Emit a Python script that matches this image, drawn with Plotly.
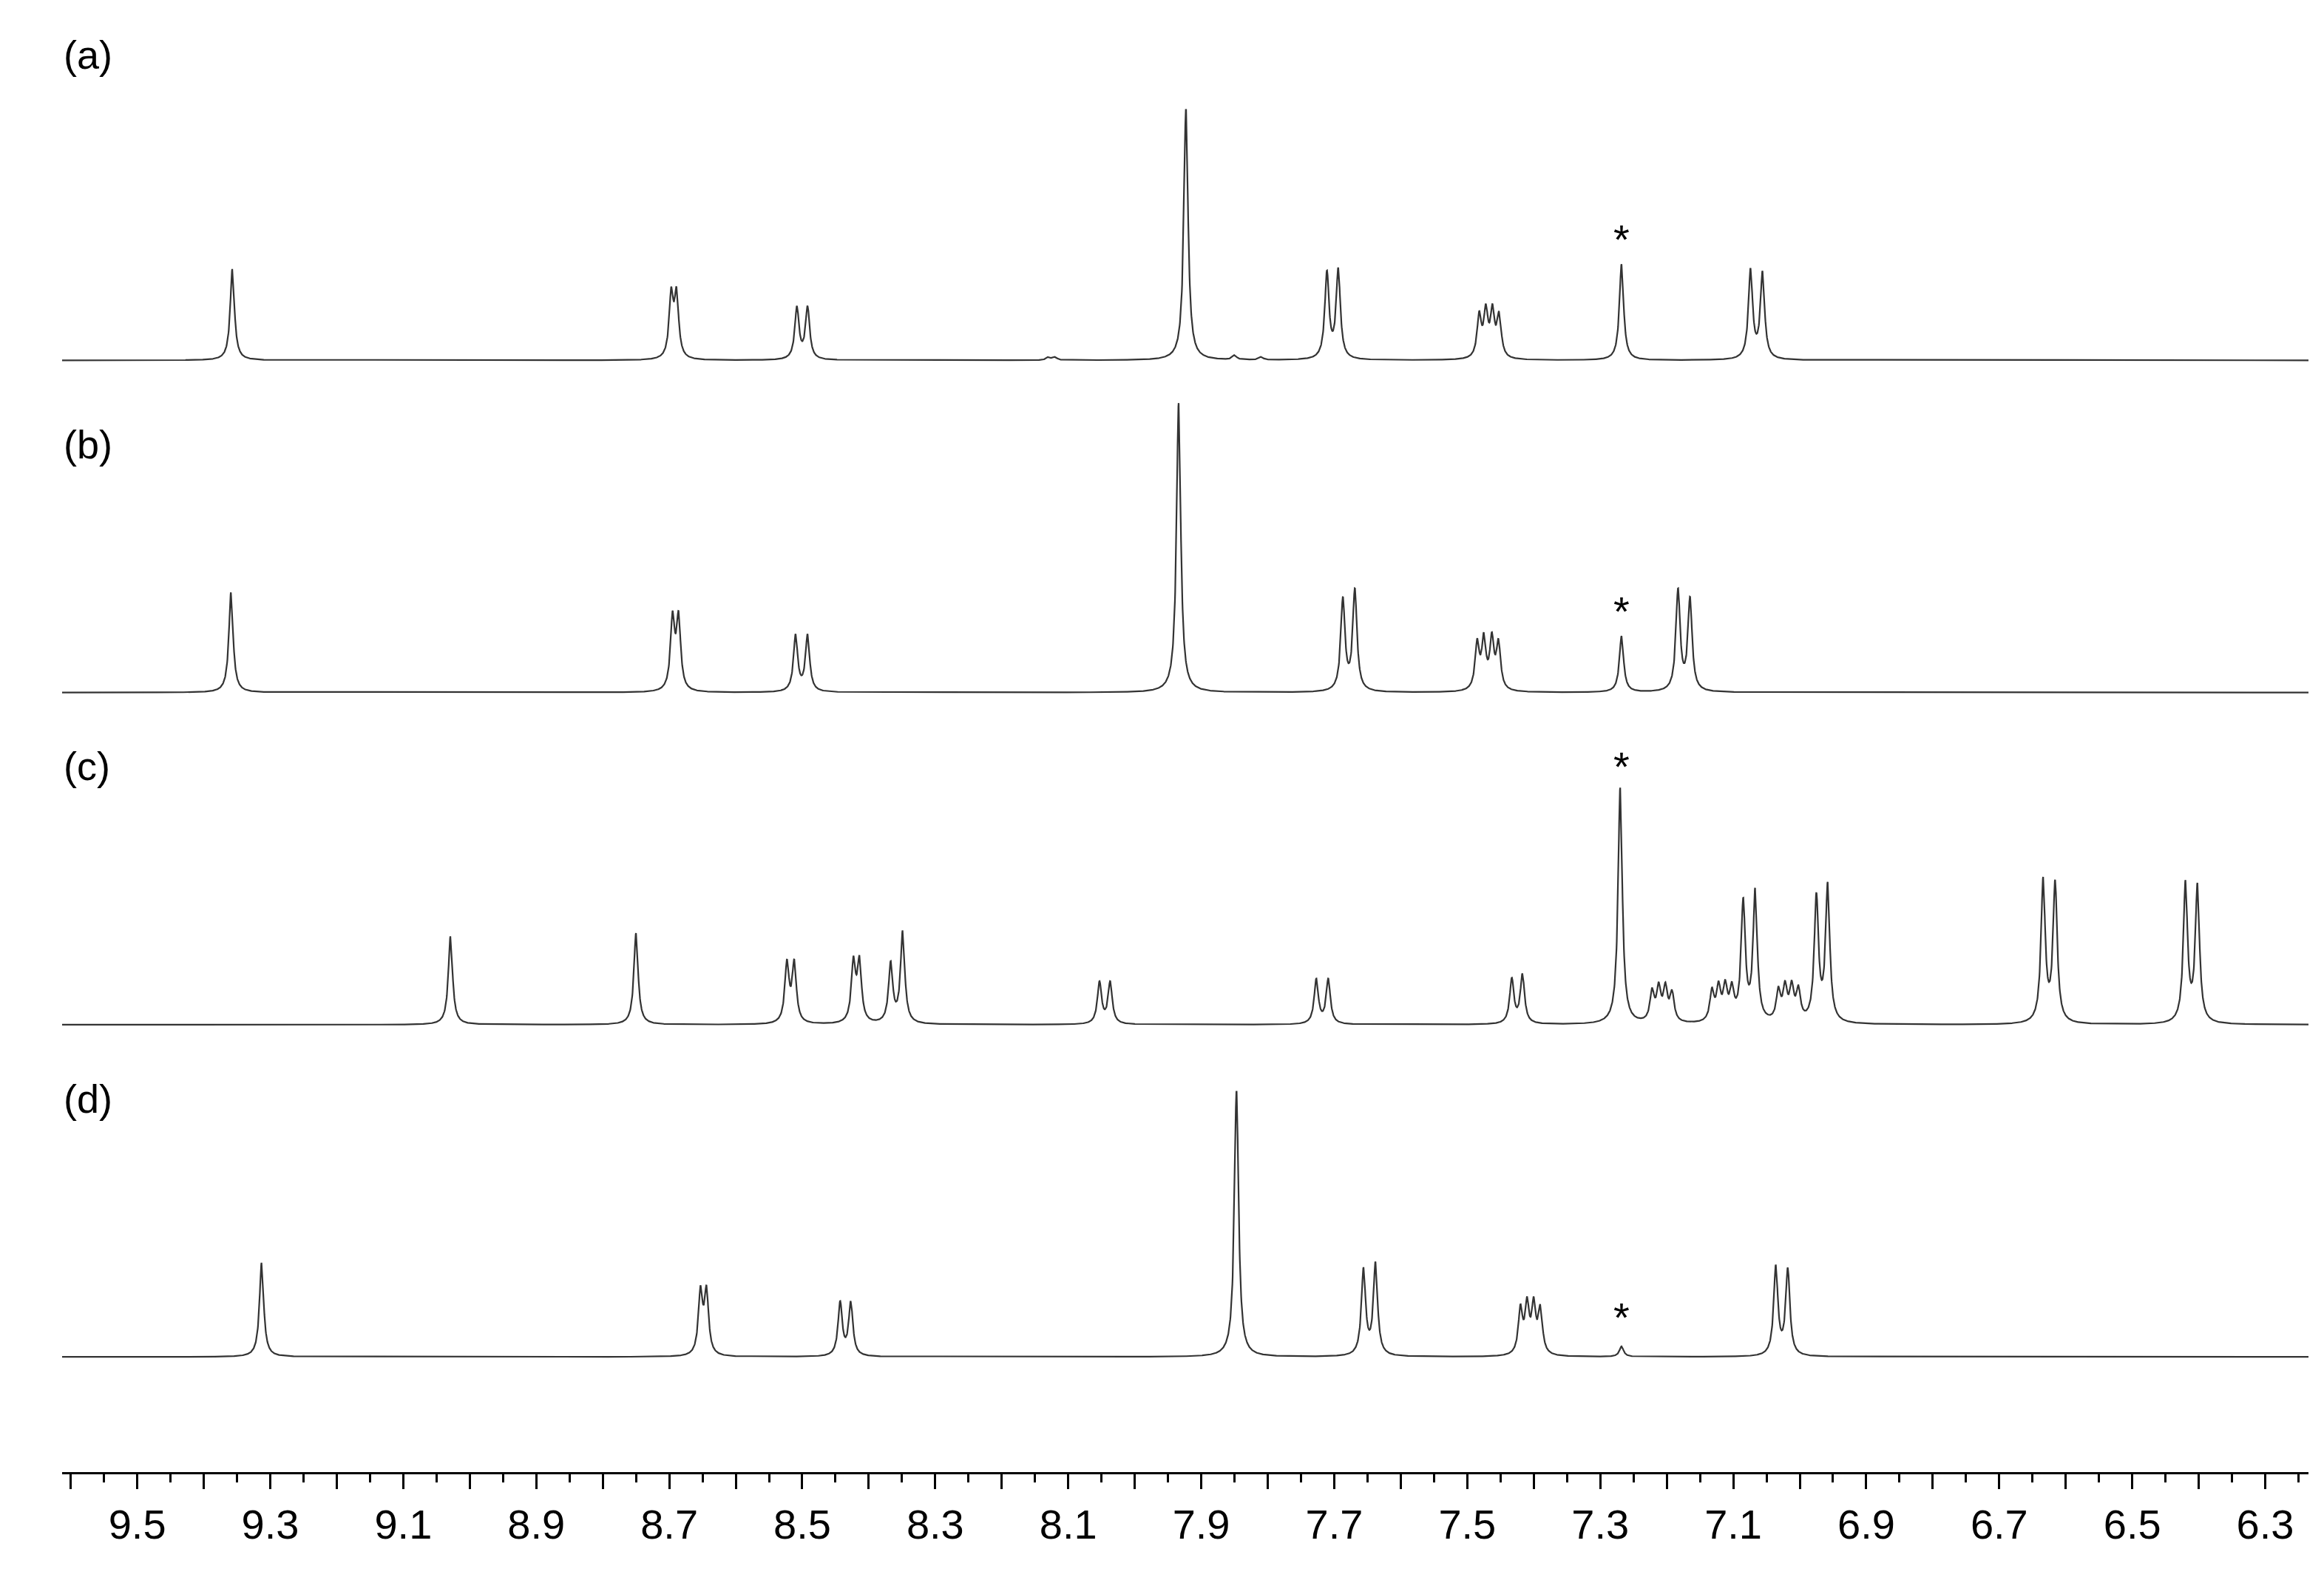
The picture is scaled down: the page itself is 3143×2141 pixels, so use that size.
import numpy as np
import plotly.graph_objects as go

# peak lists: shift (ppm), height (display px above baseline)
a_ppm = [9.357, 8.697, 8.689, 8.508, 8.492, 7.923, 7.85, 7.81, 8.13, 8.12, 7.711, 7.694,
         7.482, 7.472, 7.462, 7.452, 7.268, 7.074, 7.056]
a_int = [62, 42, 42, 35, 35, 170, 3, 2, 2, 2, 58, 60, 28, 30, 30, 28, 65, 60, 58]

b_ppm = [9.359, 8.695, 8.686, 8.510, 8.492, 7.934, 7.687, 7.669,
         7.485, 7.475, 7.463, 7.453, 7.268, 7.183, 7.165]
b_int = [68, 48, 48, 38, 38, 196, 62, 68, 31, 33, 33, 31, 38, 68, 62]

c_ppm = [9.029, 8.750, 8.523, 8.512, 8.423, 8.414, 8.367, 8.349, 8.053, 8.037,
         7.727, 7.709, 7.433, 7.417, 7.270,
         7.222, 7.212, 7.202, 7.192, 7.132, 7.122, 7.112, 7.102, 7.085, 7.067,
         7.032, 7.022, 7.012, 7.002, 6.975, 6.958, 6.634, 6.616, 6.420, 6.402]
c_int = [60, 62, 40, 40, 40, 40, 40, 62, 28, 28, 30, 30, 30, 33, 160,
         20, 22, 22, 19, 20, 22, 22, 20, 80, 88, 20, 22, 22, 20, 84, 92, 96, 94, 94, 92]

d_ppm = [9.313, 8.653, 8.644, 8.443, 8.427, 7.847, 7.656, 7.638,
         7.420, 7.410, 7.400, 7.390, 7.268, 7.036, 7.018]
d_int = [64, 42, 42, 36, 36, 180, 58, 62, 30, 32, 32, 30, 7, 60, 58]

spectra = [("(a)", a_ppm, a_int), ("(b)", b_ppm, b_int),
           ("(c)", c_ppm, c_int), ("(d)", d_ppm, d_int)]
baselines = [753, 528, 303, 78]
star_y = [835, 583, 478, 105]
label_y = [960, 696, 478, 253]

hw = 0.0038  # half width, ppm
x = np.arange(6.22, 9.64, 0.0004)

fig = go.Figure()
for (name, ppm, inten), base in zip(spectra, baselines):
    y = np.zeros_like(x)
    for p, h in zip(ppm, inten):
        y += h * hw**2 / ((x - p) ** 2 + hw**2)
    fig.add_trace(go.Scatter(x=x, y=y + base, mode="lines",
                             line=dict(color="#333333", width=2.2),
                             showlegend=False, hoverinfo="skip"))

for name, ly in zip(["(a)", "(b)", "(c)", "(d)"], label_y):
    fig.add_annotation(x=0.0, y=ly, xref="paper", yref="y", text=name,
                       showarrow=False, xanchor="left", yanchor="middle",
                       font=dict(size=54, color="black"))
for sy in star_y:
    fig.add_annotation(x=7.268, y=sy, text="*", showarrow=False,
                       yanchor="middle", font=dict(size=56, color="black"))

ticks = [round(9.6 - 0.1 * i, 1) for i in range(34)]
labels = [f"{t:.1f}" if round(t * 10) % 2 == 1 else "" for t in ticks]

fig.update_layout(
    width=3143, height=2141,
    margin=dict(l=76, r=29, t=60, b=158),
    plot_bgcolor="white", paper_bgcolor="white",
    font=dict(family="Liberation Sans, Arial", color="black"),
)
fig.update_xaxes(range=[9.613, 6.235], tickvals=ticks, ticktext=labels,
                 ticks="outside", ticklen=20, tickwidth=2.5, tickcolor="black",
                 minor=dict(dtick=0.05, ticks="outside", ticklen=11, tickwidth=2.5,
                            tickcolor="black", showgrid=False),
                 showline=True, linecolor="black", linewidth=3,
                 showgrid=False, zeroline=False, tickfont=dict(size=56))
fig.update_yaxes(range=[0, 963], visible=False, showgrid=False)

fig.write_html("out.html")
